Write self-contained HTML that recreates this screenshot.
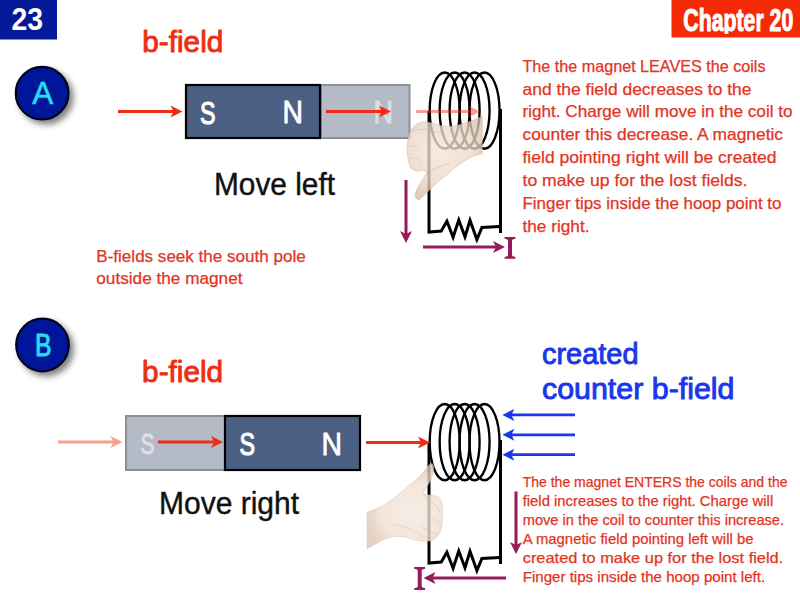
<!DOCTYPE html>
<html><head><meta charset="utf-8">
<style>
html,body{margin:0;padding:0;background:#fff;}
body{width:800px;height:600px;overflow:hidden;position:relative;font-family:"Liberation Sans",sans-serif;}
svg{position:absolute;left:0;top:0;}
</style></head>
<body>
<svg width="800" height="600" viewBox="0 0 800 600">
<defs>
  <filter id="sh" x="-40%" y="-40%" width="180%" height="180%">
    <feGaussianBlur in="SourceAlpha" stdDeviation="3"/>
    <feOffset dx="3.5" dy="3.5" result="o"/>
    <feComponentTransfer><feFuncA type="linear" slope="0.5"/></feComponentTransfer>
    <feMerge><feMergeNode/><feMergeNode in="SourceGraphic"/></feMerge>
  </filter>
</defs>
<rect x="0" y="0" width="57" height="39.5" fill="#041a98"/>
<text x="11.5" y="29.5" font-family="Liberation Sans" font-weight="bold" font-size="31" fill="#fff" textLength="31.5" lengthAdjust="spacingAndGlyphs" >23</text>
<rect x="671.5" y="0" width="128.5" height="37.5" fill="#f42a06"/>
<clipPath id="chc"><rect x="671" y="0" width="129" height="34"/></clipPath>
<text x="683.3" y="30.6" font-family="Liberation Sans" font-weight="bold" font-size="32" fill="#fff" textLength="110" lengthAdjust="spacingAndGlyphs" stroke="#fff" stroke-width="1.1" stroke-linejoin="round" clip-path="url(#chc)">Chapter 20</text>
<g filter="url(#sh)">
<circle cx="42.1" cy="93.2" r="26.3" fill="#06189a" stroke="#03061e" stroke-width="2.2"/>
<circle cx="42.5" cy="345" r="26.3" fill="#06189a" stroke="#03061e" stroke-width="2.2"/>
</g>
<text x="32.2" y="104.1" font-family="Liberation Sans" font-weight="normal" font-size="31" fill="#24def4" textLength="21" lengthAdjust="spacingAndGlyphs" stroke="#24def4" stroke-width="0.6" stroke-linejoin="round" >A</text>
<text x="35" y="356" font-family="Liberation Sans" font-weight="normal" font-size="31" fill="#24def4" textLength="16.5" lengthAdjust="spacingAndGlyphs" stroke="#24def4" stroke-width="1.0" stroke-linejoin="round" >B</text>
<text x="142.3" y="51.5" font-family="Liberation Sans" font-weight="normal" font-size="28.8" fill="#ef2d12" textLength="81" lengthAdjust="spacingAndGlyphs" stroke="#ef2d12" stroke-width="0.9" stroke-linejoin="round" >b-field</text>
<text x="142.1" y="382" font-family="Liberation Sans" font-weight="normal" font-size="28.8" fill="#ef2d12" textLength="81" lengthAdjust="spacingAndGlyphs" stroke="#ef2d12" stroke-width="0.9" stroke-linejoin="round" >b-field</text>
<rect x="321" y="85" width="88.5" height="53" fill="#b4bac6" stroke="#8e9096" stroke-width="2"/>
<text x="373.5" y="122.5" font-family="Liberation Sans" font-weight="normal" font-size="31" fill="#dcdfe7" textLength="19.5" lengthAdjust="spacingAndGlyphs" stroke="#dcdfe7" stroke-width="0.9" stroke-linejoin="round" >N</text>
<rect x="186" y="85" width="134" height="53" fill="#4c6084" stroke="#000" stroke-width="2.2"/>
<text x="200" y="123.5" font-family="Liberation Sans" font-weight="normal" font-size="31" fill="#fff" textLength="15.5" lengthAdjust="spacingAndGlyphs" stroke="#fff" stroke-width="1.2" stroke-linejoin="round" >S</text>
<text x="282.5" y="123.2" font-family="Liberation Sans" font-weight="normal" font-size="31" fill="#fff" textLength="20.5" lengthAdjust="spacingAndGlyphs" stroke="#fff" stroke-width="0.8" stroke-linejoin="round" >N</text>
<rect x="126" y="416" width="99" height="54" fill="#b4bac6" stroke="#8c8e94" stroke-width="2"/>
<text x="140.5" y="454" font-family="Liberation Sans" font-weight="normal" font-size="30" fill="#dcdfe7" textLength="14" lengthAdjust="spacingAndGlyphs" stroke="#dcdfe7" stroke-width="1.1" stroke-linejoin="round" >S</text>
<rect x="225" y="416" width="135" height="54" fill="#4c6084" stroke="#000" stroke-width="2.2"/>
<text x="239.5" y="455" font-family="Liberation Sans" font-weight="normal" font-size="31" fill="#fff" textLength="15.5" lengthAdjust="spacingAndGlyphs" stroke="#fff" stroke-width="1.2" stroke-linejoin="round" >S</text>
<text x="321.5" y="455" font-family="Liberation Sans" font-weight="normal" font-size="31" fill="#fff" textLength="20.5" lengthAdjust="spacingAndGlyphs" stroke="#fff" stroke-width="0.8" stroke-linejoin="round" >N</text>
<text x="214" y="194.7" font-family="Liberation Sans" font-weight="normal" font-size="31" fill="#111" textLength="121" lengthAdjust="spacingAndGlyphs" stroke="#111" stroke-width="0.4" stroke-linejoin="round" >Move left</text>
<text x="159" y="513.5" font-family="Liberation Sans" font-weight="normal" font-size="31" fill="#111" textLength="140" lengthAdjust="spacingAndGlyphs" stroke="#111" stroke-width="0.4" stroke-linejoin="round" >Move right</text>
<g fill="none" stroke="#000" stroke-width="2.35"><ellipse cx="444.70" cy="110.6" rx="15" ry="38.1"/><ellipse cx="454.65" cy="110.6" rx="15" ry="38.1"/><ellipse cx="464.60" cy="110.6" rx="15" ry="38.1"/><ellipse cx="474.55" cy="110.6" rx="15" ry="38.1"/><ellipse cx="484.50" cy="110.6" rx="15" ry="38.1"/></g>
<path d="M429,111 L429,232 L441.25,231 L446.9,221.3 L453.1,237.3 L458.75,220 L465,236.8 L470,220.2 L476.9,239.5 L481.9,227.5 L500,226.5" fill="none" stroke="#000" stroke-width="3" stroke-linejoin="miter"/><line x1="500.5" y1="109" x2="500.5" y2="233" stroke="#000" stroke-width="3"/>
<g fill="none" stroke="#000" stroke-width="2.35"><ellipse cx="444.70" cy="442.1" rx="15" ry="38.1"/><ellipse cx="454.65" cy="442.1" rx="15" ry="38.1"/><ellipse cx="464.60" cy="442.1" rx="15" ry="38.1"/><ellipse cx="474.55" cy="442.1" rx="15" ry="38.1"/><ellipse cx="484.50" cy="442.1" rx="15" ry="38.1"/></g>
<path d="M429,442 L429,563 L441.25,562 L446.9,552.3 L453.1,568.3 L458.75,551 L465,567.8 L470,551.2 L476.9,570.5 L481.9,558.5 L500,557.5" fill="none" stroke="#000" stroke-width="3" stroke-linejoin="miter"/><line x1="500.5" y1="440" x2="500.5" y2="564" stroke="#000" stroke-width="3"/>
<defs>
<radialGradient id="skA" cx="440" cy="150" r="48" gradientUnits="userSpaceOnUse">
<stop offset="0" stop-color="#f3e4d9"/><stop offset="0.65" stop-color="#ebd8c9"/><stop offset="1" stop-color="#d9bfaa"/></radialGradient>
<radialGradient id="skB" cx="412" cy="512" r="46" gradientUnits="userSpaceOnUse">
<stop offset="0" stop-color="#f5e9df"/><stop offset="0.65" stop-color="#efdfd2"/><stop offset="1" stop-color="#dfc6b3"/></radialGradient>
</defs><path d="M482.3,116.3 C470,122 455,127 447,126.5 C438,126 430,121 423,122 C415,123 409,130 408,140 C406,150 408,162 411,168 C414,172 420,171 424,170 L427,173 C423,178 418,186 415.5,193 C414.5,197 416,200 419.5,199.5 C425,195 435,184 444,177 C455,168 466,157 482.3,153.5 Z" fill="url(#skA)" opacity="0.78"/><path d="M482.3,116.3 C470,122 455,127 447,126.5 C438,126 430,121 423,122 C415,123 409,130 408,140 C406,150 408,162 411,168 C414,172 420,171 424,170 L427,173 C423,178 418,186 415.5,193 C414.5,197 416,200 419.5,199.5 C425,195 435,184 444,177 C455,168 466,157 482.3,153.5 Z" fill="none" stroke="#c9a68c" stroke-width="0.9" opacity="0.45"/><g fill="none" stroke="#cfae96" stroke-width="1" opacity="0.4"><path d="M412,131 C420,128 432,130 446,134"/><path d="M409,147 C413,145 417,146 420,150"/><path d="M410,159 C414,157 418,159 421,163"/><path d="M426,173 C432,170 440,166 450,163"/></g><path d="M367.1,512.2 C377,509 386,505 394,498 C402,491 411,484 420,476 C424,472 427,467 430.5,463.5 C433,463 434.5,466 433.5,470 C433,476 430,483 422.5,493.5 C428,495 434,495 439,497.5 C443,502 443,512 442.3,520 C442,528 440,535 434,539.5 C428,543 418,541 407.5,537.6 C398,535 385,537 375.8,543.9 L367.1,548.7 Z" fill="url(#skB)" opacity="0.8"/><path d="M367.1,512.2 C377,509 386,505 394,498 C402,491 411,484 420,476 C424,472 427,467 430.5,463.5 C433,463 434.5,466 433.5,470 C433,476 430,483 422.5,493.5 C428,495 434,495 439,497.5 C443,502 443,512 442.3,520 C442,528 440,535 434,539.5 C428,543 418,541 407.5,537.6 C398,535 385,537 375.8,543.9 L367.1,548.7 Z" fill="none" stroke="#cfae96" stroke-width="0.9" opacity="0.4"/><g fill="none" stroke="#d2b29c" stroke-width="1" opacity="0.4"><path d="M423,494 C430,500 437,506 440,512"/><path d="M426,515 C432,517 437,520 441,524"/><path d="M421,527 C428,530 434,533 438,536"/><path d="M395,524 C405,527 415,530 424,538"/></g>
<g opacity="1"><line x1="118" y1="111.5" x2="174.5" y2="111.5" stroke="#ef2d12" stroke-width="3"/><path d="M182.5,111.5 L170.5,105.5 L173.5,111.5 L170.5,117.5 Z" fill="#ef2d12"/></g>
<g opacity="1"><line x1="326" y1="111.5" x2="383" y2="111.5" stroke="#ef2d12" stroke-width="3"/><path d="M391,111.5 L379,105.5 L382,111.5 L379,117.5 Z" fill="#ef2d12"/></g>
<g opacity="0.45"><line x1="416" y1="111.5" x2="472" y2="111.5" stroke="#ef2d12" stroke-width="3"/><path d="M480,111.5 L468,105.5 L471,111.5 L468,117.5 Z" fill="#ef2d12"/></g>
<g opacity="0.45"><line x1="58" y1="442" x2="114.5" y2="442" stroke="#ef2d12" stroke-width="3"/><path d="M122.5,442 L110.5,436 L113.5,442 L110.5,448 Z" fill="#ef2d12"/></g>
<g opacity="1"><line x1="158" y1="442" x2="215" y2="442" stroke="#ef2d12" stroke-width="3"/><path d="M223,442 L211,436 L214,442 L211,448 Z" fill="#ef2d12"/></g>
<g opacity="1"><line x1="366" y1="442.5" x2="422" y2="442.5" stroke="#ef2d12" stroke-width="3"/><path d="M430,442.5 L418,436.5 L421,442.5 L418,448.5 Z" fill="#ef2d12"/></g>
<g opacity="1"><line x1="575" y1="414.9" x2="510.4" y2="414.9" stroke="#1937eb" stroke-width="2.8"/><path d="M502.4,414.9 L514.4,408.9 L511.4,414.9 L514.4,420.9 Z" fill="#1937eb"/></g>
<g opacity="1"><line x1="575" y1="434.8" x2="510.4" y2="434.8" stroke="#1937eb" stroke-width="2.8"/><path d="M502.4,434.8 L514.4,428.8 L511.4,434.8 L514.4,440.8 Z" fill="#1937eb"/></g>
<g opacity="1"><line x1="575" y1="454.7" x2="510.4" y2="454.7" stroke="#1937eb" stroke-width="2.8"/><path d="M502.4,454.7 L514.4,448.7 L511.4,454.7 L514.4,460.7 Z" fill="#1937eb"/></g>
<line x1="406" y1="180" x2="406" y2="235" stroke="#961b5a" stroke-width="3"/><path d="M406,243 L400,231 L406,234 L412,231 Z" fill="#961b5a"/>
<g opacity="1"><line x1="423" y1="247" x2="497" y2="247" stroke="#961b5a" stroke-width="3"/><path d="M505,247 L493,241 L496,247 L493,253 Z" fill="#961b5a"/></g>
<line x1="516" y1="491.5" x2="516" y2="546" stroke="#961b5a" stroke-width="3"/><path d="M516,554 L510,542 L516,545 L522,542 Z" fill="#961b5a"/>
<g opacity="1"><line x1="506" y1="578" x2="431.5" y2="578" stroke="#961b5a" stroke-width="3"/><path d="M423.5,578 L435.5,572 L432.5,578 L435.5,584 Z" fill="#961b5a"/></g>
<path d="M504.6,237 L515.4,237 L515.4,238.7 L512.6,239.5 L512.0,240.7 L512.0,255.10000000000002 L512.6,256.3 L515.4,257.1 L515.4,258.8 L504.6,258.8 L504.6,257.1 L507.4,256.3 L508.0,255.10000000000002 L508.0,240.7 L507.4,239.5 L504.6,238.7 Z" fill="#961b5a"/>
<path d="M414.3,567 L425.09999999999997,567 L425.09999999999997,568.7 L422.3,569.5 L421.7,570.7 L421.7,586.3 L422.3,587.5 L425.09999999999997,588.3 L425.09999999999997,590 L414.3,590 L414.3,588.3 L417.09999999999997,587.5 L417.7,586.3 L417.7,570.7 L417.09999999999997,569.5 L414.3,568.7 Z" fill="#961b5a"/>
<text x="522.5" y="71.5" font-family="Liberation Sans" font-weight="normal" font-size="16.5" fill="#e2341f" textLength="243.0" lengthAdjust="spacingAndGlyphs" stroke="#e2341f" stroke-width="0.25" stroke-linejoin="round" >The the magnet LEAVES the coils</text>
<text x="522.5" y="94.5" font-family="Liberation Sans" font-weight="normal" font-size="16.5" fill="#e2341f" textLength="229.0" lengthAdjust="spacingAndGlyphs" stroke="#e2341f" stroke-width="0.25" stroke-linejoin="round" >and the field decreases to the</text>
<text x="522.5" y="117.4" font-family="Liberation Sans" font-weight="normal" font-size="16.5" fill="#e2341f" textLength="270.0" lengthAdjust="spacingAndGlyphs" stroke="#e2341f" stroke-width="0.25" stroke-linejoin="round" >right. Charge will move in the coil to</text>
<text x="522.5" y="140.4" font-family="Liberation Sans" font-weight="normal" font-size="16.5" fill="#e2341f" textLength="260.5" lengthAdjust="spacingAndGlyphs" stroke="#e2341f" stroke-width="0.25" stroke-linejoin="round" >counter this decrease. A magnetic</text>
<text x="522.5" y="163.3" font-family="Liberation Sans" font-weight="normal" font-size="16.5" fill="#e2341f" textLength="254.0" lengthAdjust="spacingAndGlyphs" stroke="#e2341f" stroke-width="0.25" stroke-linejoin="round" >field pointing right will be created</text>
<text x="522.5" y="186.3" font-family="Liberation Sans" font-weight="normal" font-size="16.5" fill="#e2341f" textLength="225.0" lengthAdjust="spacingAndGlyphs" stroke="#e2341f" stroke-width="0.25" stroke-linejoin="round" >to make up for the lost fields.</text>
<text x="522.5" y="209.3" font-family="Liberation Sans" font-weight="normal" font-size="16.5" fill="#e2341f" textLength="259.0" lengthAdjust="spacingAndGlyphs" stroke="#e2341f" stroke-width="0.25" stroke-linejoin="round" >Finger tips inside the hoop point to</text>
<text x="522.5" y="232.2" font-family="Liberation Sans" font-weight="normal" font-size="16.5" fill="#e2341f" textLength="67.0" lengthAdjust="spacingAndGlyphs" stroke="#e2341f" stroke-width="0.25" stroke-linejoin="round" >the right.</text>

<text x="522.7" y="487.0" font-family="Liberation Sans" font-weight="normal" font-size="14.5" fill="#e2341f" textLength="264.8" lengthAdjust="spacingAndGlyphs" stroke="#e2341f" stroke-width="0.25" stroke-linejoin="round" >The the magnet ENTERS the coils and the</text>
<text x="522.7" y="506.0" font-family="Liberation Sans" font-weight="normal" font-size="14.5" fill="#e2341f" textLength="250.5" lengthAdjust="spacingAndGlyphs" stroke="#e2341f" stroke-width="0.25" stroke-linejoin="round" >field increases to the right. Charge will</text>
<text x="522.7" y="525.0" font-family="Liberation Sans" font-weight="normal" font-size="14.5" fill="#e2341f" textLength="261.4" lengthAdjust="spacingAndGlyphs" stroke="#e2341f" stroke-width="0.25" stroke-linejoin="round" >move in the coil to counter this increase.</text>
<text x="522.7" y="544.0" font-family="Liberation Sans" font-weight="normal" font-size="14.5" fill="#e2341f" textLength="230.8" lengthAdjust="spacingAndGlyphs" stroke="#e2341f" stroke-width="0.25" stroke-linejoin="round" >A magnetic field pointing left will be</text>
<text x="522.7" y="563.0" font-family="Liberation Sans" font-weight="normal" font-size="14.5" fill="#e2341f" textLength="260.6" lengthAdjust="spacingAndGlyphs" stroke="#e2341f" stroke-width="0.25" stroke-linejoin="round" >created to make up for the lost field.</text>
<text x="522.7" y="582.0" font-family="Liberation Sans" font-weight="normal" font-size="14.5" fill="#e2341f" textLength="242.5" lengthAdjust="spacingAndGlyphs" stroke="#e2341f" stroke-width="0.25" stroke-linejoin="round" >Finger tips inside the hoop point left.</text>

<text x="96.3" y="261.8" font-family="Liberation Sans" font-weight="normal" font-size="16" fill="#e2341f" textLength="209.4" lengthAdjust="spacingAndGlyphs" stroke="#e2341f" stroke-width="0.25" stroke-linejoin="round" >B-fields seek the south pole</text>
<text x="96.3" y="284.3" font-family="Liberation Sans" font-weight="normal" font-size="16" fill="#e2341f" textLength="146.2" lengthAdjust="spacingAndGlyphs" stroke="#e2341f" stroke-width="0.25" stroke-linejoin="round" >outside the magnet</text>

<text x="542" y="364.4" font-family="Liberation Sans" font-weight="normal" font-size="28.8" fill="#1937eb" textLength="96.5" lengthAdjust="spacingAndGlyphs" stroke="#1937eb" stroke-width="0.9" stroke-linejoin="round" >created</text>
<text x="542" y="399.3" font-family="Liberation Sans" font-weight="normal" font-size="28.8" fill="#1937eb" textLength="192.5" lengthAdjust="spacingAndGlyphs" stroke="#1937eb" stroke-width="0.9" stroke-linejoin="round" >counter b-field</text>
</svg>
</body></html>
